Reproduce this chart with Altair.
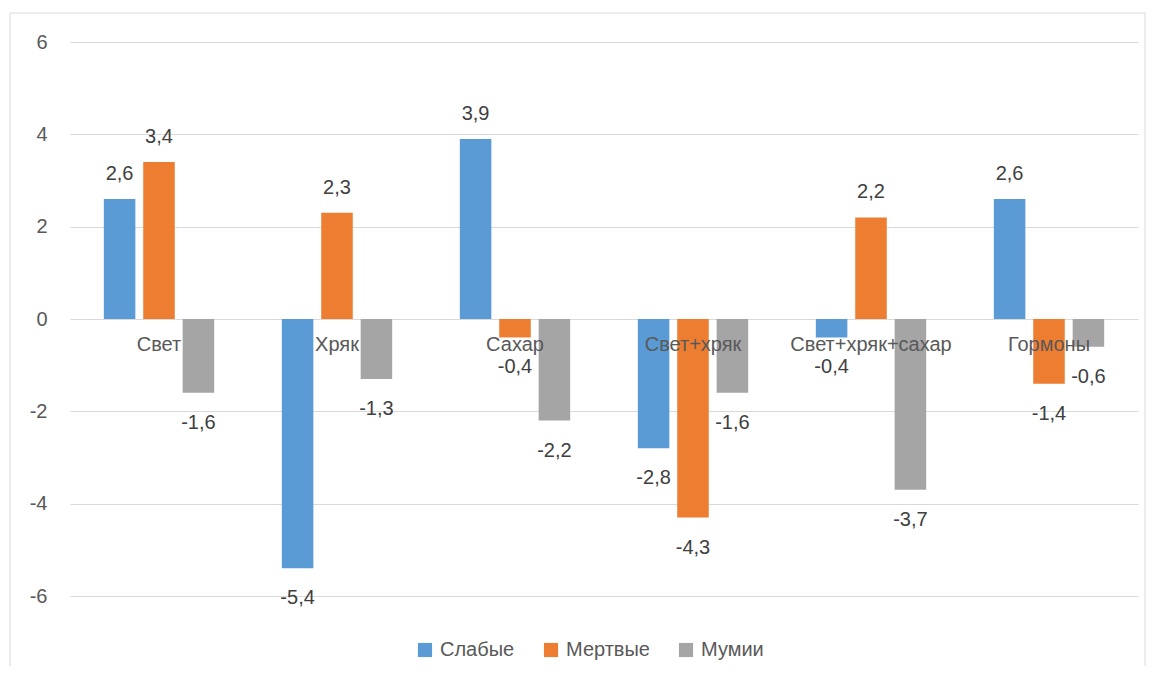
import altair as alt
import pandas as pd

categories = ["Свет", "Хряк", "Сахар", "Свет+хряк", "Свет+хряк+сахар", "Гормоны"]
series = ["Слабые", "Мертвые", "Мумии"]
slabye = [2.6, -5.4, 3.9, -2.8, -0.4, 2.6]
mertvye = [3.4, 2.3, -0.4, -4.3, 2.2, -1.4]
mumii = [-1.6, -1.3, -2.2, -1.6, -3.7, -0.6]
colors = ["#5B9BD5", "#ED7D31", "#A5A5A5"]
y_ticks = [-6, -4, -2, 0, 2, 4, 6]

rows = []
for s, vals in zip(series, [slabye, mertvye, mumii]):
    for c, v in zip(categories, vals):
        rows.append({"category": c, "series": s, "value": v,
                     "label": str(v).replace(".", ",")})
df = pd.DataFrame(rows)
cat_df = pd.DataFrame({"category": categories})

FONT = "Liberation Sans"
FS = 20
W, H = 1068, 554

x_scale = alt.Scale(paddingInner=0.38, paddingOuter=0.19)
x_enc = alt.X("category:N", sort=categories, axis=None, scale=x_scale)
xo_enc = alt.XOffset("series:N", sort=series,
                     scale=alt.Scale(paddingInner=0.2, paddingOuter=0))
y_scale = alt.Scale(domain=[-6, 6], nice=False)

base = alt.Chart(df)

bars = base.mark_bar().encode(
    x=x_enc,
    xOffset=xo_enc,
    y=alt.Y("value:Q", scale=y_scale, title=None,
            axis=alt.Axis(values=y_ticks, grid=True, gridColor="#d9d9d9",
                          gridWidth=1, domain=False, ticks=False,
                          labelPadding=23, labelFontSize=FS,
                          labelColor="#595959", labelFont=FONT,
                          labelExpr="toString(datum.value)")),
    y2=alt.datum(0),
    color=alt.Color("series:N", sort=series,
                    scale=alt.Scale(domain=series, range=colors),
                    legend=alt.Legend(title=None, orient="none",
                                      legendX=345, legendY=598,
                                      direction="horizontal",
                                      symbolType="square", symbolSize=200,
                                      symbolStrokeWidth=0,
                                      labelFontSize=FS, labelFont=FONT,
                                      labelColor="#595959",
                                      columnPadding=26, labelOffset=5)),
)

pos_text = base.transform_filter(alt.datum.value >= 0).mark_text(
    baseline="alphabetic", dy=-19, fontSize=FS, font=FONT, color="#404040"
).encode(x=x_enc, xOffset=xo_enc, y=alt.Y("value:Q", scale=y_scale),
         text="label:N")

neg_text = base.transform_filter(alt.datum.value < 0).mark_text(
    baseline="top", dy=20, fontSize=FS, font=FONT, color="#404040"
).encode(x=x_enc, xOffset=xo_enc, y=alt.Y("value:Q", scale=y_scale),
         text="label:N")

cat_text = alt.Chart(cat_df).mark_text(
    baseline="middle", dy=26, fontSize=FS, font=FONT, color="#595959"
).encode(x=alt.X("category:N", sort=categories, axis=None, scale=x_scale),
         y=alt.datum(0), text="category:N")

border = alt.Chart(pd.DataFrame({"a": [0]})).mark_rect(
    filled=False, stroke="#d9d9d9", strokeWidth=1, clip=False
).encode(x=alt.value(-60), x2=alt.value(1075), y=alt.value(-29), y2=alt.value(660))

chart = alt.layer(border, bars, pos_text, neg_text, cat_text).properties(
    width=W, height=H, autosize="none",
    padding={"left": 62, "top": 34, "right": 8, "bottom": 70}
).configure_view(strokeWidth=0)

chart.save("out.html", embed_options={"renderer": "svg", "actions": False})
